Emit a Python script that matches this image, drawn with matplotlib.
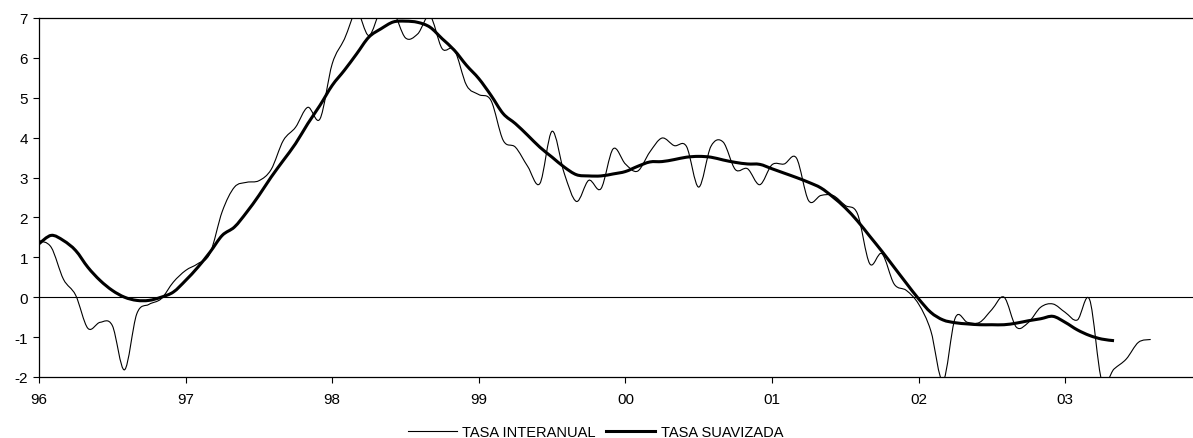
import numpy as np
import matplotlib
matplotlib.use("Agg")
import matplotlib.pyplot as plt
from matplotlib.path import Path
from matplotlib.patches import PathPatch
from matplotlib.lines import Line2D

plt.rcParams['font.family'] = ['Liberation Sans', 'DejaVu Sans']
plt.rcParams['axes.unicode_minus'] = False

# monthly data, Jan 1996 onwards (x in years since 96)
tasa_interanual = [
    1.42, 1.25, 0.45, 0.05, -0.78, -0.63, -0.71, -1.82, -0.42, -0.18, -0.04, 0.38,
    0.67, 0.84, 1.10, 2.15, 2.76, 2.88, 2.92, 3.20, 3.93, 4.26, 4.76, 4.47,
    5.85, 6.47, 7.15, 6.56, 7.20, 7.15, 6.50, 6.60, 7.05, 6.23, 6.20, 5.31,
    5.08, 4.93, 3.93, 3.76, 3.28, 2.85, 4.16, 3.10, 2.40, 2.93, 2.72, 3.72,
    3.34, 3.16, 3.64, 3.99, 3.80, 3.78, 2.76, 3.78, 3.89, 3.20, 3.22, 2.82,
    3.32, 3.34, 3.49, 2.42, 2.55, 2.55, 2.30, 2.09, 0.84, 1.09, 0.33, 0.17,
    -0.17, -0.84, -2.10, -0.52, -0.63, -0.63, -0.31, 0.00, -0.75, -0.63, -0.25, -0.17,
    -0.38, -0.57, -0.06, -2.10, -1.80, -1.55, -1.13, -1.06,
]
tasa_suavizada = [
    1.34, 1.55, 1.42, 1.17, 0.75, 0.42, 0.17, 0.00, -0.08, -0.08, 0.00, 0.13,
    0.42, 0.75, 1.13, 1.55, 1.76, 2.13, 2.55, 3.01, 3.43, 3.85, 4.35, 4.81,
    5.31, 5.69, 6.10, 6.52, 6.73, 6.90, 6.92, 6.89, 6.77, 6.48, 6.19, 5.81,
    5.48, 5.06, 4.60, 4.35, 4.06, 3.76, 3.51, 3.26, 3.07, 3.04, 3.04, 3.09,
    3.15, 3.28, 3.39, 3.40, 3.45, 3.51, 3.53, 3.51, 3.44, 3.38, 3.34, 3.33,
    3.22, 3.11, 3.00, 2.88, 2.74, 2.51, 2.24, 1.91, 1.53, 1.15, 0.75, 0.35,
    -0.04, -0.38, -0.57, -0.64, -0.67, -0.69, -0.69, -0.69, -0.65, -0.59, -0.54, -0.48,
    -0.63, -0.82, -0.96, -1.05, -1.09,
]
year_labels = ['96', '97', '98', '99', '00', '01', '02', '03']


def smooth_path(x, y):
    # spreadsheet-style "smoothed line": bezier segments through every point
    pts = np.column_stack([x, y])
    verts = [pts[0]]
    codes = [Path.MOVETO]
    n = len(pts)
    for i in range(n - 1):
        p0 = pts[max(i - 1, 0)]
        p1 = pts[i]
        p2 = pts[i + 1]
        p3 = pts[min(i + 2, n - 1)]
        verts += [p1 + (p2 - p0) / 6, p2 - (p3 - p1) / 6, p2]
        codes += [Path.CURVE4] * 3
    return Path(verts, codes)


x_int = np.arange(len(tasa_interanual)) / 12
x_suav = np.arange(len(tasa_suavizada)) / 12

fig = plt.figure(figsize=(11.93, 4.39), dpi=100)
ax = fig.add_axes([0.0327, 0.139, 0.9673, 0.8178])

ax.axhline(0, color='black', lw=0.8)
ax.add_patch(PathPatch(smooth_path(x_int, tasa_interanual), fill=False,
                       edgecolor='black', lw=0.8))
ax.add_patch(PathPatch(smooth_path(x_suav, tasa_suavizada), fill=False,
                       edgecolor='black', lw=2.2))

ax.set_xlim(0, 7.872)
ax.set_ylim(-2, 7)
ax.set_xticks(range(len(year_labels)))
ax.set_xticklabels(year_labels)
ax.set_yticks(range(-2, 8))
ax.tick_params(labelsize=11, length=4, width=0.8, direction='out', pad=7)
ax.tick_params(axis='y', pad=4)

for s in ['left', 'top', 'bottom']:
    ax.spines[s].set_linewidth(0.9)
ax.spines['right'].set_visible(False)

handles = [Line2D([], [], color='black', lw=0.8),
           Line2D([], [], color='black', lw=2.2)]
fig.legend(handles, ['TASA INTERANUAL', 'TASA SUAVIZADA'],
           loc='lower center', bbox_to_anchor=(0.499, -0.032), ncol=2,
           frameon=False, fontsize=10.5, handlelength=3.4,
           handletextpad=0.35, columnspacing=0.7)

fig.savefig('out.png', dpi=100)
